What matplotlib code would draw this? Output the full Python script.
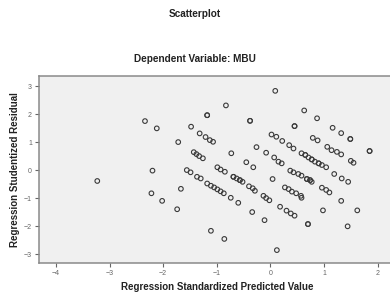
import numpy as np
import matplotlib.pyplot as plt

plt.rcParams['font.family'] = ['Liberation Sans', 'DejaVu Sans']

# standardized predicted value vs studentized residual
pred = [-3.23, -2.34, -2.12, -2.20, -2.22, -2.02, -1.74, -1.67, -1.72, -1.48,
        -1.32, -1.21, -1.13, -1.07, -1.18, -1.18, -0.83, -1.43, -1.38, -1.33,
        -1.26, -1.56, -1.49, -1.37, -1.30, -0.99, -0.93, -0.85, -1.18, -1.11,
        -1.05, -0.99, -0.93, -0.87, -1.11, -0.86, -0.74, -0.60, -0.34, -0.11,
        0.12, -0.73, -0.38, -0.38, -0.26, -0.08, -0.45, -0.32, -0.69, -0.69,
        -0.63, -0.57, -0.57, -0.52, -0.40, -0.33, -0.29, -0.13, -0.08, -0.02,
        0.04, 0.09, 0.02, 0.11, 0.22, 0.35, 0.43, 0.07, 0.15, 0.21,
        0.37, 0.43, 0.52, 0.58, 0.68, 0.74, 0.77, 0.27, 0.34, 0.40,
        0.48, 0.57, 0.18, 0.30, 0.38, 0.45, 0.70, 0.70, 0.58, 0.45,
        0.45, 0.63, 0.87, 1.16, 1.32, 1.49, 1.49, 1.85, 1.85, 0.79,
        0.88, 1.06, 1.14, 1.24, 1.32, 1.50, 1.55, 0.58, 0.65, 0.65,
        0.71, 0.77, 0.77, 0.83, 0.90, 0.90, 0.96, 1.04, 1.19, 1.33,
        1.45, 0.96, 1.04, 1.10, 1.32, 0.98, 1.62, 1.44, 0.68, 0.74]
resid = [-0.39, 1.75, 1.49, -0.02, -0.83, -1.10, -1.40, -0.67, 1.00, 1.55,
         1.31, 1.18, 1.07, 1.01, 1.96, 1.96, 2.31, 0.64, 0.57, 0.50,
         0.42, 0.00, -0.08, -0.24, -0.30, 0.10, 0.02, -0.06, -0.48, -0.56,
         -0.62, -0.69, -0.76, -0.83, -2.17, -2.46, -0.99, -1.17, -1.50, -1.79,
         -2.86, 0.60, 1.76, 1.76, 0.82, 0.62, 0.28, 0.10, -0.24, -0.24,
         -0.30, -0.36, -0.36, -0.42, -0.58, -0.65, -0.74, -0.92, -1.00, -1.08,
         -0.32, 2.83, 1.27, 1.19, 1.04, 0.89, 0.77, 0.45, 0.30, 0.24,
         -0.02, -0.08, -0.14, -0.20, -0.32, -0.36, -0.42, -0.62, -0.68, -0.77,
         -0.83, -0.92, -1.31, -1.45, -1.55, -1.63, -1.93, -1.93, -0.99, 1.57,
         1.57, 2.13, 1.85, 1.51, 1.32, 1.11, 1.11, 0.68, 0.68, 1.15,
         1.06, 0.83, 0.71, 0.65, 0.56, 0.33, 0.26, 0.60, 0.54, 0.54,
         0.45, 0.38, 0.38, 0.30, 0.24, 0.24, 0.18, 0.10, -0.14, -0.30,
         -0.42, -0.63, -0.71, -0.80, -1.10, -1.44, -1.44, -2.01, -0.32, -0.36]

xticks = [-4, -3, -2, -1, 0, 1, 2]
yticks = [-3, -2, -1, 0, 1, 2, 3]

fig = plt.figure(figsize=(3.9, 2.95), dpi=100)
ax = fig.add_axes([0.1, 0.1085, 0.913, 0.6335])
ax.set_facecolor('#f0f0f0')

ax.scatter(pred, resid, s=11, facecolors='none', edgecolors='#3a3a3a',
           linewidths=0.8, zorder=3)

ax.set_xlim(-4.317, 2.325)
ax.set_ylim(-3.32, 3.357)
ax.set_xticks(xticks)
ax.set_yticks(yticks)
ax.tick_params(labelsize=5, colors='#666666', length=3, width=0.8, pad=2)

for side in ['left', 'bottom', 'top']:
    ax.spines[side].set_color('#8a8a8a')
    ax.spines[side].set_linewidth(1.1)
ax.spines['right'].set_visible(False)

ax.set_xlabel('Regression Standardized Predicted Value', fontsize=7,
              fontweight='bold', color='#222222', labelpad=4)
ax.set_ylabel('Regression Studentized Residual', fontsize=7,
              fontweight='bold', color='#222222', labelpad=3)

fig.text(0.5, 0.952, 'Scatterplot', ha='center', va='center', fontsize=7.2,
         fontweight='bold', color='#222222')
fig.text(0.5, 0.8, 'Dependent Variable: MBU', ha='center', va='center',
         fontsize=7.2, fontweight='bold', color='#222222')

fig.savefig('out.png', dpi=100)
